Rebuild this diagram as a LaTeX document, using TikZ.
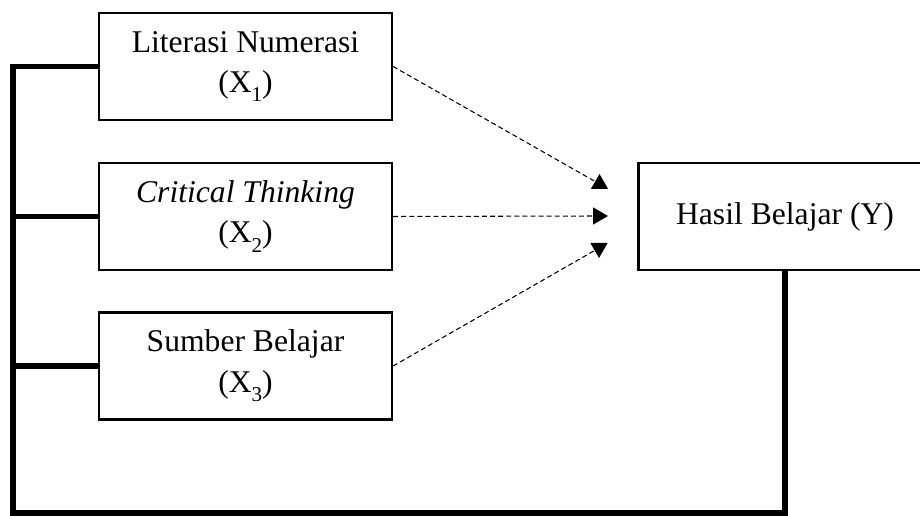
\documentclass[tikz,border=0pt]{standalone}
\usepackage{fontspec}
\setmainfont{Liberation Serif}
\usepackage{tikz}
\usetikzlibrary{shapes,arrows.meta,positioning,calc}

\newcommand{\lowidx}[1]{\raisebox{-0.3em}{\fontsize{12}{12}\selectfont #1}}

\tikzset{
    varbox/.style={draw, line width=1.3pt, minimum width=5.86cm, minimum height=2.14cm,
        align=center, inner sep=0pt, font=\fontsize{18}{23}\selectfont},
    bus/.style={line width=3pt},
    dashline/.style={line width=0.6pt, dash pattern=on 2.8pt off 1.8pt},
    head/.style={regular polygon, regular polygon sides=3, fill=black, minimum size=0.4cm, inner sep=0pt}
}

\begin{document}
\begin{tikzpicture}[x=0.02cm, y=-0.02cm]
    \useasboundingbox (0,0) rectangle (920,516);

    % Variables
    \node[varbox] (x1) at (245.5,66.5) {Literasi Numerasi\\(X\lowidx{1})};
    \node[varbox] (x2) at (245.5,216.5) {\textit{Critical Thinking}\\(X\lowidx{2})};
    \node[varbox] (x3) at (245.5,366) {Sumber Belajar\\(X\lowidx{3})};
    \node[varbox] (y) at (785,216.5) {Hasil Belajar (Y)}; % Dependent

    % Arrow heads
    \node[head] (h1) at (599.5,184) {};
    \node[head, shape border rotate=-90] (h2) at (598,216) {};
    \node[head, shape border rotate=180] (h3) at (599,248) {};

    % Partial effects
    \draw[dashline] (x1.east) -- (h1);
    \draw[dashline] (x2.east) -- (h2);
    \draw[dashline] (x3.east) -- (h3);

    % Simultaneous effect
    \coordinate (corner) at (13,513);
    \draw[bus] (x1.west) -- (x1.west -| corner) -- (corner) -| (y.south);
    \draw[bus] (x2.west) -- (x2.west -| corner);
    \draw[bus] (x3.west) -- (x3.west -| corner);

\end{tikzpicture}
\end{document}
